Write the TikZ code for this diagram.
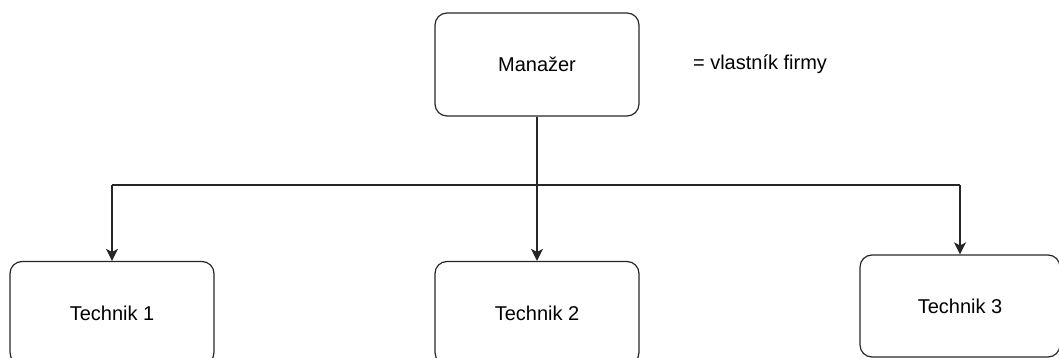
\documentclass[tikz,border=0pt]{standalone}
\usepackage{fontspec}
\setmainfont{Liberation Sans}
\usetikzlibrary{arrows.meta}
\begin{document}
\begin{tikzpicture}[x=1pt,y=-1pt,
  box/.style={draw=black!85, line width=1.2pt, rounded corners=12pt, minimum width=204pt, minimum height=103pt, font=\fontsize{20}{24}\selectfont, inner sep=0pt},
  lbl/.style={font=\fontsize{20}{24}\selectfont, inner sep=0pt},
  conn/.style={draw=black!85, line width=1.2pt, -{Stealth[length=12pt,width=12pt,inset=3pt]}},
  line/.style={draw=black!85, line width=1.2pt}]
\useasboundingbox (0,0) rectangle (1059,358);
\node[box] (man) at (537,64.5) {Manažer};
\node[lbl] (own) at (760,64) {= vlastník firmy};
\node[box] (t1) at (112,313) {\raisebox{-3pt}{Technik 1}};
\node[box] (t2) at (537,313) {\raisebox{-3pt}{Technik 2}};
\node[box, minimum width=200pt, minimum height=102pt] (t3) at (960,306) {\raisebox{-4pt}{Technik 3}};
\coordinate (j) at (537,185);
\coordinate (jl) at (112,185);
\coordinate (jr) at (960,185);
\draw[line] (man.south) -- (j);
\draw[line] (jl) -- (jr);
\draw[conn] (jl) -- (t1.north);
\draw[conn] (j) -- (t2.north);
\draw[conn] (jr) -- (t3.north);
\end{tikzpicture}
\end{document}
